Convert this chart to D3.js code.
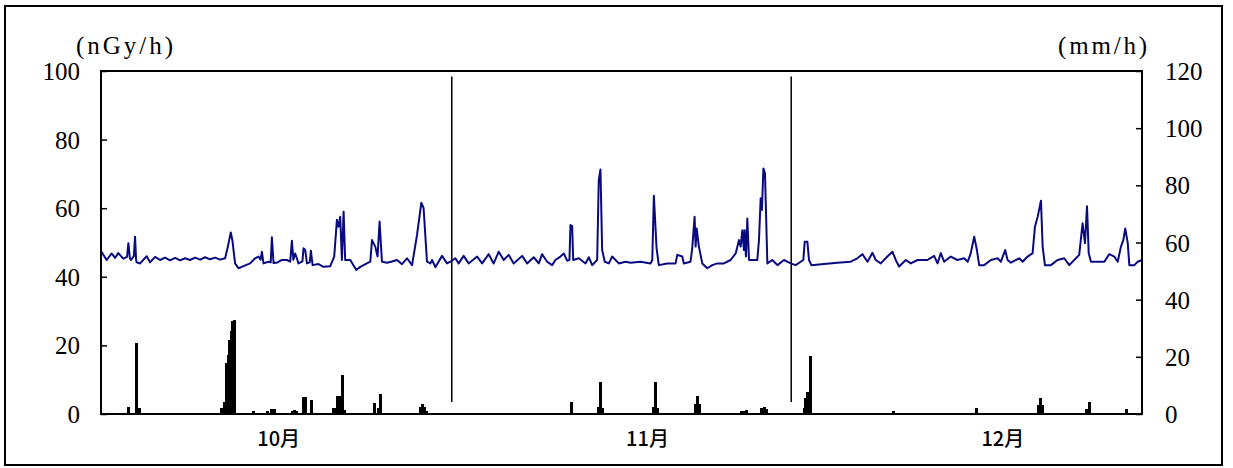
<!DOCTYPE html>
<html>
<head>
<meta charset="utf-8">
<script src="https://cdn.jsdelivr.net/npm/d3@7"></script>
<style>
  body { margin: 0; background: #fff; }
  svg { display: block; }
</style>
</head>
<body>
<svg id="chart" width="1233" height="468"></svg>
<script>
'use strict';

// days counted from Oct 1 (0) to Jan 1 (92)
var monthNames = ['10月', '11月', '12月'];
var monthLabelDays = [15.7, 48.3, 79.7];
var monthBounds = [31, 61];

var leftTicks = [0, 20, 40, 60, 80, 100];
var rightTicks = [0, 20, 40, 60, 80, 100, 120];

// air dose rate (nGy/h), [day, value]
var dose = [
  [0.0,47.5],[0.5,44.9],[0.95,46.8],[1.24,45.5],[1.53,46.9],[1.97,45.3],[2.3,45.8],[2.42,49.8],[2.55,45.5],[2.65,44.9],
  [2.9,46.0],[3.01,51.7],[3.1,45.0],[3.16,44.2],[3.45,43.9],[4.04,46.0],[4.33,44.2],[4.78,45.8],[5.22,44.9],[5.66,45.6],
  [6.1,44.8],[6.55,45.5],[6.99,44.8],[7.43,45.4],[7.87,44.9],[8.32,45.6],[8.76,45.0],[9.2,45.7],[9.64,45.1],[10.08,45.6],
  [10.53,45.0],[10.97,45.4],[11.21,48.8],[11.47,52.9],[11.61,50.7],[11.85,43.9],[12.15,42.5],[12.59,43.1],[13.18,43.9],
  [13.62,45.4],[13.92,45.9],[14.1,45.0],[14.22,47.3],[14.36,43.9],[14.8,44.4],[15.0,44.2],[15.1,51.5],[15.25,44.0],
  [15.6,44.2],[15.99,44.9],[16.43,44.9],[16.72,44.4],[16.87,50.5],[17.0,45.0],[17.16,46.8],[17.31,45.4],[17.45,43.9],
  [17.8,44.5],[17.9,48.3],[18.05,47.8],[18.2,43.9],[18.45,44.2],[18.55,47.6],[18.7,43.4],[19.22,43.7],[19.66,42.9],
  [20.26,43.1],[20.61,45.9],[20.85,56.6],[20.99,54.6],[21.14,57.5],[21.29,44.9],[21.44,59.0],[21.58,44.9],[22.03,44.9],
  [22.56,42.0],[22.91,42.9],[23.5,43.9],[23.8,44.4],[23.95,50.7],[24.24,48.8],[24.44,45.9],[24.62,56.1],[24.83,44.4],
  [25.27,44.1],[25.65,44.4],[26.16,44.9],[26.6,43.7],[27.04,45.4],[27.49,43.4],[27.93,52.2],[28.31,61.6],[28.51,60.0],
  [28.81,44.4],[29.1,43.9],[29.26,44.9],[29.55,42.8],[30.14,46.1],[30.58,43.9],[30.87,44.4],
  [31.32,45.4],[31.61,43.9],[32.05,46.1],[32.49,43.9],[33.24,45.9],[33.68,43.9],[34.26,46.6],[34.7,43.9],[35.15,47.3],
  [35.59,44.9],[36.03,46.4],[36.47,43.9],[37.22,46.1],[37.66,43.9],[38.24,45.7],[38.69,43.9],[38.98,46.6],[39.43,44.4],
  [39.87,43.4],[40.16,44.9],[40.6,45.9],[40.9,46.8],[41.2,44.7],[41.4,44.9],[41.49,55.1],[41.64,54.8],[41.73,44.9],
  [42.23,45.4],[42.82,43.9],[43.11,45.7],[43.41,43.4],[43.85,44.9],[43.99,68.2],[44.14,71.3],[44.29,47.8],[44.52,44.4],
  [44.88,43.9],[45.18,45.9],[45.76,43.9],[46.35,44.4],[46.8,44.1],[47.68,44.4],[48.57,43.9],[48.72,44.9],[48.86,63.6],
  [49.1,48.3],[49.3,43.4],[50.04,43.9],[50.78,43.9],[50.93,46.4],[51.37,45.9],[51.51,43.9],[52.1,44.4],[52.25,48.3],
  [52.46,57.5],[52.55,48.8],[52.64,54.1],[52.84,48.8],[53.14,43.9],[53.58,42.5],[54.02,43.4],[54.47,43.9],[55.05,43.9],
  [55.64,44.9],[56.09,46.8],[56.24,48.8],[56.38,50.7],[56.53,48.8],[56.68,53.6],[56.82,47.8],[56.88,53.6],[57.0,45.9],
  [57.12,57.0],[57.27,44.9],[57.71,44.9],[58.0,44.9],[58.15,50.7],[58.3,62.9],[58.41,59.5],[58.54,71.6],[58.68,70.2],
  [58.89,43.9],[59.33,44.9],[59.78,43.4],[60.36,44.9],[60.95,43.9],
  [61.39,43.4],[61.84,44.4],[62.07,44.9],[62.19,50.2],[62.43,50.2],[62.57,44.9],[62.78,43.4],[63.9,43.7],[65.08,44.1],
  [66.26,44.4],[66.85,45.4],[67.29,46.6],[67.74,44.4],[68.18,47.0],[68.47,44.9],[68.91,43.9],[69.5,45.9],[69.95,47.3],
  [70.24,44.9],[70.53,43.0],[71.13,44.9],[71.57,43.9],[72.16,44.9],[73.04,44.9],[73.63,46.1],[73.93,43.9],[74.22,46.9],
  [74.51,44.4],[75.1,45.9],[75.69,44.9],[76.28,45.4],[76.6,44.4],[76.87,46.9],[77.17,51.7],[77.41,47.8],[77.61,43.4],
  [78.05,43.4],[78.65,44.9],[79.24,45.4],[79.53,44.4],[79.91,47.8],[80.12,44.9],[80.41,44.1],[81.15,45.4],[81.45,44.4],
  [81.89,45.9],[82.33,46.9],[82.54,54.6],[82.78,57.5],[83.07,62.2],[83.22,48.8],[83.42,43.4],[83.95,43.4],[84.54,44.9],
  [85.13,45.4],[85.57,43.4],[86.16,45.4],[86.45,46.4],[86.75,55.6],[86.96,49.8],[87.14,60.6],[87.29,46.9],[87.49,44.4],
  [88.08,44.4],[88.67,44.4],[89.11,46.6],[89.55,45.9],[89.85,44.4],[90.14,48.8],[90.35,50.7],[90.52,54.1],[90.74,49.8],
  [90.88,43.4],[91.32,43.4],[91.62,44.4],[92,44.9]
];

// rainfall (mm/h), [day, value]
var rain = [
  [2.39,2.3],[3.08,25.0],[3.36,2.0],
  [10.66,2.0],[10.91,4.3],[11.06,17.8],[11.21,20.7],[11.32,26.0],[11.47,28.9],[11.62,32.7],[11.77,33.0],
  [13.47,1.0],[14.66,1.0],[15.08,1.6],[15.3,1.6],
  [16.9,1.2],[17.09,1.4],[17.29,1.2],[17.87,6.1],[18.09,6.1],[18.6,4.9],
  [20.56,2.2],[20.74,2.2],[20.92,6.3],[21.1,6.3],[21.32,13.7],[21.5,1.5],
  [24.13,3.7],[24.46,2.0],[24.68,7.0],
  [28.18,2.3],[28.37,3.5],[28.56,2.3],[28.75,1.0],
  [41.58,4.3],[43.97,2.5],[44.14,11.3],[44.32,2.0],
  [48.83,2.5],[49.0,11.3],[49.18,2.0],
  [52.54,3.5],[52.72,6.3],[52.9,3.5],
  [56.57,1.0],[56.79,1.2],[57.06,1.4],[58.39,2.0],[58.61,2.3],[58.83,1.6],
  [62.13,2.0],[62.28,5.5],[62.41,7.8],[62.68,20.4],
  [70.0,1.2],[77.32,2.2],
  [82.84,3.0],[83.02,5.5],[83.2,3.0],
  [87.05,1.8],[87.3,4.3],[90.59,1.8]
];

var svg = d3.select('#chart');

var box = {left: 101, right: 1142, top: 71, bottom: 414};

var x = d3.scaleLinear().domain([0, 92]).range([box.left, box.right]);
var yL = d3.scaleLinear().domain([0, 100]).range([box.bottom, box.top]);
var yR = d3.scaleLinear().domain([0, 120]).range([box.bottom, box.top]);

var serif = '"Liberation Serif", "DejaVu Serif", serif';

// outer frame
svg.append('rect')
  .attr('x', 5).attr('y', 6)
  .attr('width', 1217).attr('height', 459)
  .attr('fill', 'none').attr('stroke', '#000').attr('stroke-width', 2);

// rain bars
var barW = Math.max(2.5, x(0.2) - x(0));
svg.append('g')
  .attr('shape-rendering', 'crispEdges')
  .selectAll('rect')
  .data(rain).enter().append('rect')
  .attr('x', function(d){ return Math.round(x(d[0]) - barW / 2); })
  .attr('y', function(d){ return yR(d[1]); })
  .attr('width', Math.round(barW))
  .attr('height', function(d){ return yR(0) - yR(d[1]); })
  .attr('fill', '#000');

// month boundaries
svg.append('g').selectAll('line')
  .data(monthBounds).enter().append('line')
  .attr('x1', function(d){ return x(d); })
  .attr('x2', function(d){ return x(d); })
  .attr('y1', yL(98.4))
  .attr('y2', yL(3.5))
  .attr('stroke', '#000').attr('stroke-width', 1.5);

// dose line
var line = d3.line()
  .x(function(d){ return x(d[0]); })
  .y(function(d){ return yL(d[1]); });

svg.append('path')
  .datum(dose)
  .attr('d', line)
  .attr('fill', 'none')
  .attr('stroke', '#0a0a80')
  .attr('stroke-width', 2)
  .attr('stroke-linejoin', 'round');

// axes, ticks inward
var gl = svg.append('g')
  .attr('transform', 'translate(' + box.left + ',0)')
  .call(d3.axisLeft(yL).tickValues(leftTicks).tickSize(-6).tickPadding(21));
var gr = svg.append('g')
  .attr('transform', 'translate(' + box.right + ',0)')
  .call(d3.axisRight(yR).tickValues(rightTicks).tickSize(-6).tickPadding(23));

[gl, gr].forEach(function(g){
  g.select('.domain').remove();
  g.selectAll('line').attr('stroke', '#000').attr('stroke-width', 1.5);
  g.selectAll('text')
    .attr('fill', '#000')
    .style('font-family', serif)
    .style('font-size', '25px')
    .attr('dy', '0.34em');
});

// plot frame
svg.append('rect')
  .attr('x', box.left).attr('y', box.top)
  .attr('width', box.right - box.left).attr('height', box.bottom - box.top)
  .attr('fill', 'none').attr('stroke', '#000').attr('stroke-width', 2);

// unit labels
svg.append('text')
  .attr('x', 76).attr('y', 54)
  .attr('textLength', 97).attr('lengthAdjust', 'spacing')
  .style('font-family', serif).style('font-size', '25px')
  .text('(nGy/h)');
svg.append('text')
  .attr('x', 1058).attr('y', 54)
  .attr('textLength', 89).attr('lengthAdjust', 'spacing')
  .style('font-family', serif).style('font-size', '25px')
  .text('(mm/h)');

// month labels
svg.append('g').selectAll('text')
  .data(monthNames).enter().append('text')
  .attr('x', function(d, i){ return x(monthLabelDays[i]); })
  .attr('y', 446)
  .attr('text-anchor', 'middle')
  .style('font-family', '"Noto Sans CJK JP", sans-serif')
  .style('font-size', '20px')
  .style('font-weight', 500)
  .text(function(d){ return d; });
</script>
</body>
</html>
